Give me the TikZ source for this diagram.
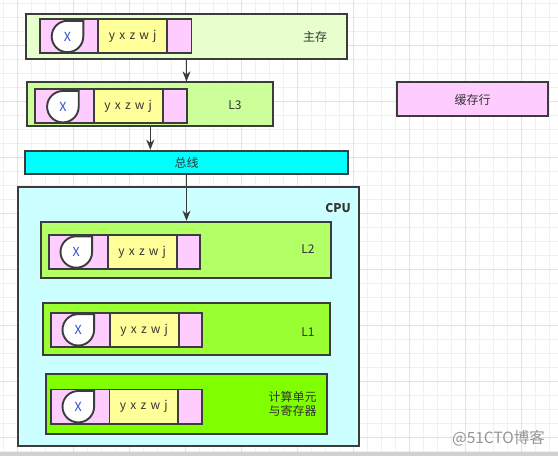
\documentclass[tikz,border=0pt]{standalone}
\usepackage{fontspec}
\setmainfont{Noto Sans CJK SC}
\usetikzlibrary{arrows.meta}
\definecolor{linec}{HTML}{3C3C3C}
\definecolor{fmain}{HTML}{E6FFCC}
\definecolor{fl3}{HTML}{CCFF99}
\definecolor{fl2}{HTML}{B3FF66}
\definecolor{fl1}{HTML}{99FF33}
\definecolor{fcu}{HTML}{80FF00}
\definecolor{fcpu}{HTML}{CCFFFF}
\definecolor{fbus}{HTML}{00FFFF}
\definecolor{fpink}{HTML}{FFCCFF}
\definecolor{fyel}{HTML}{FFFF99}
\definecolor{txtc}{HTML}{333333}
\definecolor{xblue}{HTML}{2F4FCC}
\definecolor{gridminor}{HTML}{F0F0F0}
\definecolor{gridmajor}{HTML}{E2E2E2}
\tikzset{
  box/.style={draw=linec, line width=1.9pt, inner sep=0pt, rectangle},
  arr/.style={draw=linec, line width=1.4pt, -{Stealth[length=10pt,width=8pt,inset=3pt]}},
  lbl/.style={text=txtc, inner sep=0pt, font=\fontsize{12}{14}\selectfont},
  xtxt/.style={text=xblue, inner sep=0pt, font=\fontsize{12.5}{14}\selectfont},
  dropst/.style={draw=linec, line width=1.9pt, fill=white},
}
\newcommand\lsp{\hspace{4.2pt}}
\newcommand\mydrop[3]{%
  \begin{scope}[shift={(#2,#3)}]
    \draw[dropst] (15.8,-15.7) -- (15.8,0) .. controls (15.8,8.7) and (8.7,15.7) .. (0,15.7)
      .. controls (-8.7,15.7) and (-15.8,8.7) .. (-15.8,0)
      .. controls (-15.8,-8.7) and (-8.7,-15.7) .. (0,-15.7) -- cycle;
    \node[xtxt] (#1) at (0,0) {X};
  \end{scope}}
\newcommand\cacheline[8]{% name, pinkcx, cy, yelcx, dropcx, dropcy
  \node[box, fill=fpink, minimum width=151.6pt, minimum height=34.5pt] (#1p) at (#2,#3) {};
  \node[box, fill=fyel, minimum width=68.7pt, minimum height=34.5pt] (#1y) at (#4,#3) {};
  \node[lbl] (#1t) at (#4,#3) {y\lsp x\lsp z\lsp w\lsp j};
  \mydrop{#1x}{#5}{#6}}
\begin{document}
\begin{tikzpicture}[x=1pt,y=-1pt]
\useasboundingbox (0,0) rectangle (558,456);
\fill[white] (0,0) rectangle (558,456);
% grid
\foreach \i in {0,...,39} {
  \draw[gridminor, line width=1pt] ({3.3+14*\i},0) -- ({3.3+14*\i},452);
}
\foreach \j in {0,...,32} {
  \draw[gridminor, line width=1pt] (0,{3.3+14*\j}) -- (558,{3.3+14*\j});
}
\foreach \i in {0,...,9} {
  \draw[gridmajor, line width=1pt] ({17.3+56*\i},0) -- ({17.3+56*\i},452);
}
\foreach \j in {0,...,7} {
  \draw[gridmajor, line width=1pt] (0,{45.3+56*\j}) -- (558,{45.3+56*\j});
}
\fill[black!18] (0,452) rectangle (558,456);

% main memory
\node[box, fill=fmain, minimum width=321.6pt, minimum height=45pt] (main) at (186.5,36.5) {};
\cacheline{m}{115.7}{36}{132.7}{67.5}{36.5}{}{}
\node[lbl] (mainl) at (315,37) {主存};

% L3
\node[box, fill=fl3, minimum width=246pt, minimum height=43.7pt] (l3) at (150.3,104.2) {};
\cacheline{c}{111}{105.9}{128.2}{62.9}{106.7}{}{}
\node[lbl] (l3l) at (235,105) {L3};

% bus
\node[box, fill=fbus, minimum width=323.6pt, minimum height=23.6pt] (bus) at (186.5,162.5) {};
\node[lbl] (busl) at (186.7,162.5) {总线};

% CPU
\node[box, fill=fcpu, minimum width=341pt, minimum height=259pt] (cpu) at (188.8,316.2) {};
\node[lbl, font=\fontsize{12}{14}\selectfont\bfseries] (cpul) at (338,208.3) {CPU};

% L2
\node[box, fill=fl2, minimum width=290pt, minimum height=56.6pt] (l2) at (186,250) {};
\cacheline{b}{124.5}{252}{142.2}{76.3}{252}{}{}
\node[lbl] (l2l) at (308,249) {L2};

% L1
\node[box, fill=fl1, minimum width=287.6pt, minimum height=52.3pt] (l1) at (186.5,329.2) {};
\cacheline{a}{126.5}{330}{144.2}{78.3}{329.8}{}{}
\node[lbl] (l1l) at (308,331.7) {L1};

% compute unit
\node[box, fill=fcu, minimum width=281pt, minimum height=60.3pt] (cu) at (186.5,403.9) {};
\cacheline{u}{126.5}{406.7}{143.8}{78.3}{406.7}{}{}
\node[lbl, align=center, font=\fontsize{12}{14.5}\selectfont] (cul) at (292.7,404) {计算单元\\与寄存器};

% legend
\node[box, fill=fpink, minimum width=151.6pt, minimum height=34.3pt] (leg) at (472.5,98.9) {};
\node[lbl] (legl) at (472.5,99.5) {缓存行};

% arrows
\draw[arr] (main.south) -- (main.south |- l3.north);
\draw[arr] (l3.south) -- (l3.south |- bus.north);
\draw[arr] (bus.south) -- (bus.south |- l2.north);

% watermark
\node[text=black!42, inner sep=0pt, font=\fontsize{15.5}{17}\selectfont] (wm) at (498.5,438) {@51CTO博客};
\end{tikzpicture}
\end{document}
